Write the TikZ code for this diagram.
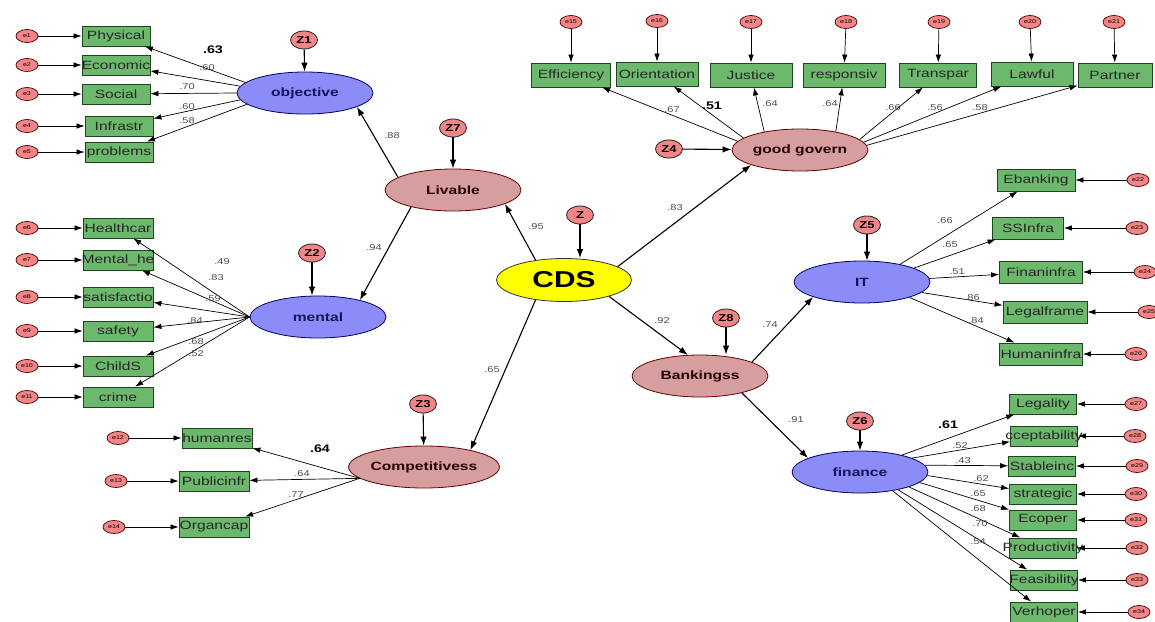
\documentclass[tikz,border=0pt]{standalone}
\usepackage{fontspec}
\setmainfont{Liberation Sans}[FakeStretch=1.3]
\usetikzlibrary{shapes.geometric,arrows.meta}
\definecolor{boxg}{RGB}{108,184,108}
\definecolor{boxd}{RGB}{30,70,30}
\definecolor{errp}{RGB}{242,134,134}
\definecolor{latbl}{RGB}{140,140,248}
\definecolor{latpk}{RGB}{214,158,158}
\definecolor{latye}{RGB}{255,255,0}
\definecolor{bluet}{RGB}{20,20,90}
\newcommand{\bt}[1]{\makebox[0pt]{#1}}
\tikzset{
 ind/.style={rectangle, draw=boxd, fill=boxg, minimum width=#1, minimum height=20pt, inner sep=0pt, line width=0.8pt, font=\fontsize{12}{12}\selectfont, text=black!85},
 ind/.default=68pt,
 err/.style={ellipse, draw=black!70!red, fill=errp, minimum width=22pt, minimum height=13pt, inner sep=0pt, line width=0.7pt, font=\fontsize{5.5}{5.5}\selectfont},
 zc/.style={ellipse, draw=black!80, fill=errp, minimum width=27pt, minimum height=18pt, inner sep=0pt, line width=0.9pt, font=\bfseries\fontsize{10}{10}\selectfont},
 lv/.style={ellipse, minimum width=136pt, minimum height=42pt, inner sep=0pt, line width=0.8pt, font=\bfseries\fontsize{12}{12}\selectfont},
 bl/.style={lv, draw=blue!40!black, fill=latbl, text=bluet},
 pk/.style={lv, draw=black!60!red, fill=latpk, text=black!85!red},
 ld/.style={font=\fontsize{8.5}{8.5}\selectfont, text=black!70, inner sep=0pt},
 ldb/.style={font=\bfseries\fontsize{11}{11}\selectfont, inner sep=0pt},
 arr/.style={-{Latex[length=8pt,width=5.5pt]}, line width=0.7pt},
 sarr/.style={-{Latex[length=9pt,width=6.5pt]}, line width=1.1pt},
}
\begin{document}
\begin{tikzpicture}[x=1pt,y=-1pt]
\useasboundingbox (0,0) rectangle (1155,621);
\fill[white] (0,0) rectangle (1155,621);

% ---------- latent variables ----------
\node[bl] (obj) at (305,93) {objective};
\node[pk] (liv) at (453,190) {Livable};
\node[bl] (mental) at (318,317) {mental};
\node[pk] (comp) at (424,467) {Competitivess};
\node[lv, draw=black!80, fill=latye, minimum width=135pt, minimum height=43pt, font=\bfseries\fontsize{23}{23}\selectfont] (cds) at (564,280) {CDS};
\node[pk] (gg) at (800,150) {good govern};
\node[bl] (it) at (862,282) {IT};
\node[pk] (bank) at (700,376) {Bankingss};
\node[bl] (fin) at (860,472) {finance};

% ---------- disturbances ----------
\node[zc] (z1) at (304,40) {Z1};
\node[zc] (z7) at (453,128) {Z7};
\node[zc] (z2) at (312,253) {Z2};
\node[zc] (z3) at (423,404) {Z3};
\node[zc] (z) at (580,215) {Z};
\node[zc] (z4) at (669,149) {Z4};
\node[zc] (z5) at (867,225) {Z5};
\node[zc] (z8) at (726,318) {Z8};
\node[zc] (z6) at (860,421) {Z6};

% ---------- objective indicators ----------
\node[ind] (phys) at (116,36) {\bt{Physical}};
\node[ind] (econ) at (116,65) {\bt{Economic}};
\node[ind] (soc) at (116,94) {\bt{Social}};
\node[ind] (infr) at (119,126) {\bt{Infrastr}};
\node[ind] (prob) at (119,152) {\bt{problems}};
\node[err] (e1) at (27,36) {e1};
\node[err] (e2) at (27,65) {e2};
\node[err] (e3) at (27,94) {e3};
\node[err] (e4) at (27,126) {e4};
\node[err] (e5) at (27,152) {e5};

% ---------- mental indicators ----------
\node[ind=70pt] (heal) at (118,228) {\bt{Healthcar}};
\node[ind=70pt] (menh) at (118,260) {\bt{Mental\_he}};
\node[ind=70pt] (sat) at (118,297) {\bt{satisfactio}};
\node[ind=70pt] (saf) at (118,331) {\bt{safety}};
\node[ind=70pt] (chi) at (118,366) {\bt{ChildS}};
\node[ind=70pt] (cri) at (118,397) {\bt{crime}};
\node[err] (e6) at (27,228) {e6};
\node[err] (e7) at (27,260) {e7};
\node[err] (e8) at (27,297) {e8};
\node[err] (e9) at (27,331) {e9};
\node[err] (e10) at (27,366) {e10};
\node[err] (e11) at (27,397) {e11};

% ---------- competitiveness indicators ----------
\node[ind=70pt] (hum) at (217,438) {\bt{humanres}};
\node[ind=70pt] (pub) at (214,481) {\bt{Publicinfr}};
\node[ind=70pt] (org) at (214,527) {\bt{Organcap}};
\node[err] (e12) at (118,438) {e12};
\node[err] (e13) at (116,481) {e13};
\node[err] (e14) at (114,527) {e14};

% ---------- good governance indicators ----------
\node[ind=79pt, minimum height=24pt] (eff) at (571,75) {\bt{Efficiency}};
\node[ind=82pt, minimum height=24pt] (ori) at (657,74) {\bt{Orientation}};
\node[ind=82pt, minimum height=24pt] (jus) at (751,75) {\bt{Justice}};
\node[ind=82pt, minimum height=24pt] (res) at (844,75) {\bt{responsiv}};
\node[ind=77pt, minimum height=24pt] (tra) at (938,75) {\bt{Transpar}};
\node[ind=82pt, minimum height=24pt] (law) at (1032,74) {\bt{Lawful}};
\node[ind=74pt, minimum height=24pt] (par) at (1115,75) {\bt{Partner}};
\node[err] (e15) at (571,22) {e15};
\node[err] (e16) at (657,21) {e16};
\node[err] (e17) at (751,22) {e17};
\node[err] (e18) at (846,22) {e18};
\node[err] (e19) at (939,22) {e19};
\node[err] (e20) at (1030,22) {e20};
\node[err] (e21) at (1114,22) {e21};

% ---------- IT indicators ----------
\node[ind=78pt, minimum height=22pt] (ebk) at (1036,180) {\bt{Ebanking}};
\node[ind=71pt, minimum height=22pt] (ssi) at (1028,228) {\bt{SSInfra}};
\node[ind=83pt, minimum height=22pt] (fni) at (1041,272) {\bt{Finaninfra}};
\node[ind=84pt, minimum height=22pt] (lgf) at (1045,312) {\bt{Legalframe}};
\node[ind=83pt, minimum height=22pt] (hmi) at (1041,354) {\bt{Humaninfra}};
\node[err] (e22) at (1138,180) {e22};
\node[err] (e23) at (1137,228) {e23};
\node[err] (e24) at (1145,272) {e24};
\node[err] (e25) at (1149,312) {e25};
\node[err] (e26) at (1136,354) {e26};

% ---------- finance indicators ----------
\node[ind=67pt] (lga) at (1043,404) {\bt{Legality}};
\node[ind=67pt] (acc) at (1044,436) {\bt{cceptability}};
\node[ind=67pt] (stb) at (1042,466) {\bt{Stableinc}};
\node[ind=67pt] (stg) at (1043,494) {\bt{strategic}};
\node[ind=67pt] (eco) at (1043,520) {\bt{Ecoper}};
\node[ind=67pt] (pro) at (1043,548) {\bt{Productivity}};
\node[ind=67pt] (fea) at (1044,580) {\bt{Feasibility}};
\node[ind=67pt] (ver) at (1044,612) {\bt{Verhoper}};
\node[err] (e27) at (1136,404) {e27};
\node[err] (e28) at (1135,436) {e28};
\node[err] (e29) at (1137,466) {e29};
\node[err] (e30) at (1136,494) {e30};
\node[err] (e31) at (1136,520) {e31};
\node[err] (e32) at (1137,548) {e32};
\node[err] (e33) at (1137,580) {e33};
\node[err] (e34) at (1139,612) {e34};

% ---------- error arrows ----------
\foreach \a/\b in {e1/phys,e2/econ,e3/soc,e4/infr,e5/prob,e6/heal,e7/menh,e8/sat,e9/saf,e10/chi,e11/cri,e12/hum,e13/pub,e14/org,e15/eff,e16/ori,e17/jus,e18/res,e19/tra,e20/law,e21/par,e22/ebk,e23/ssi,e24/fni,e25/lgf,e26/hmi,e27/lga,e28/acc,e29/stb,e30/stg,e31/eco,e32/pro,e33/fea,e34/ver}
  \draw[arr] (\a) -- (\b);

% ---------- loadings ----------
\draw[arr] (obj.170) -- (phys);
\draw[arr] (obj.174) -- (econ);
\draw[arr] (obj.180) -- (soc);
\draw[arr] (obj.-174) -- (infr);
\draw[arr] (obj.-169) -- (prob);
\foreach \b in {heal,menh,sat,saf,chi,cri} \draw[arr] (mental.west) -- (\b);
\foreach \b in {hum,pub,org} \draw[arr] (comp.190) -- (\b);
\draw[arr] (gg.172) -- (eff);
\draw[arr] (gg.168) -- (ori);
\draw[arr] (gg.153) -- (jus);
\draw[arr] (gg.27) -- (res);
\draw[arr] (gg.10) -- (tra);
\draw[arr] (gg.7) -- (law);
\draw[arr] (gg.4) -- (par);
\draw[arr] (it.25) -- (ebk);
\draw[arr] (it.15) -- (ssi);
\draw[arr] (it.3) -- (fni);
\draw[arr] (it.-10) -- (lgf);
\draw[arr] (it.-18) -- (hmi);
\draw[arr] (fin.22) -- (lga);
\draw[arr] (fin.15) -- (acc);
\draw[arr] (fin.6) -- (stb);
\draw[arr] (fin.-3) -- (stg);
\draw[arr] (fin.-10) -- (eco);
\draw[arr] (fin.-17) -- (pro);
\draw[arr] (fin.-25) -- (fea);
\draw[arr] (fin.-30) -- (ver);

% ---------- structural paths ----------
\draw[sarr] (liv.167) -- (obj.-15);
\draw[sarr] (liv.202) -- (mental.22);
\draw[sarr] (cds.145) -- (liv.-15);
\draw[sarr] (cds.-145) -- (comp.20);
\draw[sarr] (cds.14) -- (gg.197);
\draw[sarr] (cds.-20) -- (bank.120);
\draw[sarr] (bank.15) -- (it.197);
\draw[sarr] (bank.-22) -- (fin.165);

% ---------- disturbance arrows ----------
\draw[sarr] (z1) -- (obj);
\draw[sarr] (z7) -- (liv);
\draw[sarr] (z2) -- (z2 |- mental.north);
\draw[sarr] (z3) -- (comp);
\draw[sarr] (z) -- (z |- cds.north);
\draw[sarr] (z4) -- (gg);
\draw[sarr] (z5) -- (z5 |- it.north);
\draw[sarr] (z8) -- (z8 |- bank.north);
\draw[sarr] (z6) -- (fin);

% ---------- coefficient labels ----------
\node[ldb] (c1) at (213,50) {.63};
\node[ld] (c2) at (207,68) {.60};
\node[ld] (c3) at (187,87) {.70};
\node[ld] (c4) at (187,107) {.60};
\node[ld] (c5) at (187,121) {.58};
\node[ld] (c6) at (222,262) {.49};
\node[ld] (c7) at (216,278) {.83};
\node[ld] (c8) at (213,299) {.59};
\node[ld] (c9) at (195,321) {.84};
\node[ld] (c10) at (196,342) {.68};
\node[ld] (c11) at (196,354) {.52};
\node[ldb] (c12) at (320,449) {.64};
\node[ld] (c13) at (302,474) {.64};
\node[ld] (c14) at (296,495) {.77};
\node[ld] (c15) at (672,110) {.67};
\node[ldb] (c16) at (712,106) {.51};
\node[ld] (c17) at (770,104) {.64};
\node[ld] (c18) at (830,104) {.64};
\node[ld] (c19) at (893,108) {.66};
\node[ld] (c20) at (935,108) {.56};
\node[ld] (c21) at (980,108) {.58};
\node[ld] (c22) at (945,221) {.66};
\node[ld] (c23) at (950,245) {.65};
\node[ld] (c24) at (957,272) {.51};
\node[ld] (c25) at (972,298) {.86};
\node[ld] (c26) at (976,321) {.84};
\node[ldb] (c27) at (948,425) {.61};
\node[ld] (c28) at (960,446) {.52};
\node[ld] (c29) at (963,461) {.43};
\node[ld] (c30) at (981,479) {.62};
\node[ld] (c31) at (978,494) {.65};
\node[ld] (c32) at (978,509) {.68};
\node[ld] (c33) at (980,524) {.70};
\node[ld] (c34) at (978,542) {.54};
\node[ld] (c35) at (392,136) {.88};
\node[ld] (c36) at (374,248) {.94};
\node[ld] (c37) at (536,227) {.95};
\node[ld] (c38) at (492,370) {.65};
\node[ld] (c39) at (675,208) {.83};
\node[ld] (c40) at (662,321) {.92};
\node[ld] (c41) at (770,325) {.74};
\node[ld] (c42) at (796,420) {.91};
\end{tikzpicture}
\end{document}
